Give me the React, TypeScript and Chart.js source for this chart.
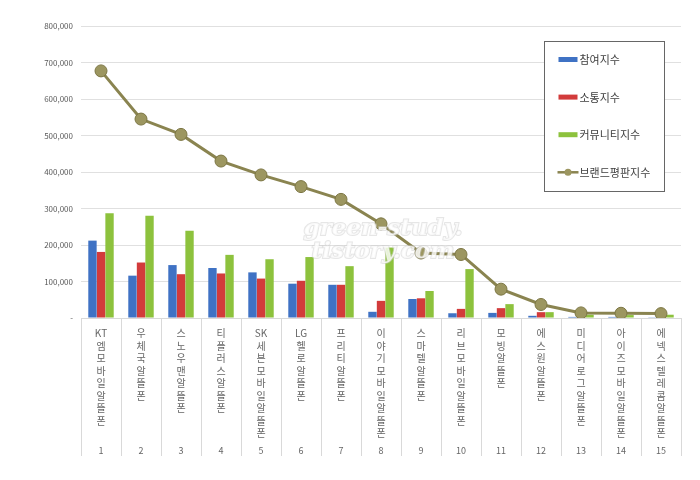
import {useEffect, useRef} from "react";
import {Chart, registerables} from "chart.js";

Chart.register(...registerables);

const names = [
    "KT엠모바일 알뜰폰", "우체국 알뜰폰", "스노우맨 알뜰폰", "티플러스 알뜰폰", "SK세븐모바일 알뜰폰",
    "LG헬로 알뜰폰", "프리티 알뜰폰", "이야기모바일 알뜰폰", "스마텔 알뜰폰", "리브모바일 알뜰폰",
    "모빙 알뜰폰", "에스원 알뜰폰", "미디어로그 알뜰폰", "아이즈모바일 알뜰폰", "에넥스텔레콤 알뜰폰",
];
const ranks = ["1", "2", "3", "4", "5", "6", "7", "8", "9", "10", "11", "12", "13", "14", "15"];

const participation = [212000, 116000, 145000, 137000, 125000, 94000, 91000, 17000, 52000, 13000, 14000, 6000, 3000, 3000, 2000];
const communication = [181000, 152000, 120000, 122000, 108000, 102000, 91000, 47000, 54000, 25000, 27000, 16000, 2000, 2000, 1000];
const community = [287000, 280000, 239000, 173000, 161000, 167000, 142000, 193000, 74000, 134000, 38000, 16000, 9000, 8000, 9000];
const reputation = [677000, 545000, 503000, 430000, 392000, 360000, 325000, 258000, 178000, 174000, 79000, 37000, 14000, 13000, 12000];

const yTicks = [0, 100000, 200000, 300000, 400000, 500000, 600000, 700000, 800000];

const FONT = "'Noto Sans CJK KR', 'Noto Sans', sans-serif";

// 세로쓰기: 한글은 한 글자씩, 영문은 묶어서 한 줄
const stack = (s: string) => s.replace(/\s/g, "").match(/[A-Za-z]+|./g) || [];

const boxPlugin = {
    id: "boxLegend",
    afterDraw(chart: any) {
        const {ctx, chartArea} = chart;
        const xs = chart.scales.x;
        const x2 = chart.scales.x2;

        // category separators under the axis
        const half = (xs.getPixelForValue(1) - xs.getPixelForValue(0)) / 2;
        ctx.save();
        ctx.strokeStyle = "#d9d9d9";
        ctx.lineWidth = 1;
        for (let i = 0; i <= names.length; i++) {
            const px = Math.round(xs.getPixelForValue(i) - half) + 0.5;
            ctx.beginPath();
            ctx.moveTo(px, chartArea.bottom);
            ctx.lineTo(px, x2.bottom - 2);
            ctx.stroke();
        }
        ctx.restore();

        // watermark
        ctx.save();
        ctx.font = "bold italic 23px 'DejaVu Serif', serif";
        ctx.textAlign = "center";
        ctx.textBaseline = "middle";
        ctx.lineWidth = 2;
        ctx.strokeStyle = "rgba(205,205,205,0.5)";
        ctx.fillStyle = "rgba(255,255,255,0.8)";
        const cx = (chartArea.left + chartArea.right) / 2 + 2;
        ctx.strokeText("green-study.", cx, 229);
        ctx.fillText("green-study.", cx, 229);
        ctx.strokeText("tistory.com", cx, 252);
        ctx.fillText("tistory.com", cx, 252);
        ctx.restore();

        // legend box
        const bx = chartArea.right - 136.5;
        const by = chartArea.top + 15.5;
        const bw = 120;
        const bh = 150;
        ctx.save();
        ctx.fillStyle = "#ffffff";
        ctx.fillRect(bx, by, bw, bh);
        ctx.strokeStyle = "#666666";
        ctx.lineWidth = 1;
        ctx.strokeRect(bx, by, bw, bh);
        ctx.font = "11px " + FONT;
        ctx.textBaseline = "middle";
        chart.data.datasets.forEach((ds: any, i: number) => {
            const ry = by + 18 + i * 37.6;
            if (ds.type === "line") {
                ctx.strokeStyle = ds.borderColor;
                ctx.lineWidth = 2.5;
                ctx.beginPath();
                ctx.moveTo(bx + 13, ry);
                ctx.lineTo(bx + 34, ry);
                ctx.stroke();
                ctx.fillStyle = ds.pointBackgroundColor;
                ctx.beginPath();
                ctx.arc(bx + 23.5, ry, 3.5, 0, Math.PI * 2);
                ctx.fill();
            } else {
                ctx.fillStyle = ds.backgroundColor;
                ctx.fillRect(bx + 14, ry - 2.5, 19, 5);
            }
            ctx.fillStyle = "#404040";
            ctx.fillText(ds.label, bx + 35, ry + 0.5);
        });
        ctx.restore();
    },
};

const App = () => {
    const canvasRef = useRef<HTMLCanvasElement>(null);

    useEffect(() => {
        document.body.style.margin = "0";
        if (!canvasRef.current) return;
        const ctx = canvasRef.current.getContext("2d");
        if (!ctx) return;

        const myChart = new Chart(ctx, {
            type: "bar",
            data: {
                labels: names.map(stack),
                datasets: [
                    {
                        type: "bar",
                        label: "참여지수",
                        data: participation,
                        backgroundColor: "#3f72c4",
                        categoryPercentage: 0.64,
                        barPercentage: 0.98,
                        order: 1,
                    },
                    {
                        type: "bar",
                        label: "소통지수",
                        data: communication,
                        backgroundColor: "#d23b3b",
                        categoryPercentage: 0.64,
                        barPercentage: 0.98,
                        order: 1,
                    },
                    {
                        type: "bar",
                        label: "커뮤니티지수",
                        data: community,
                        backgroundColor: "#8dc23d",
                        categoryPercentage: 0.64,
                        barPercentage: 0.98,
                        order: 1,
                    },
                    {
                        type: "line",
                        label: "브랜드평판지수",
                        data: reputation,
                        borderColor: "#8a8450",
                        borderWidth: 3,
                        pointRadius: 6,
                        pointBackgroundColor: "#9c9660",
                        pointBorderColor: "#7c7644",
                        pointBorderWidth: 1,
                        order: 0,
                    } as any,
                ],
            },
            options: {
                responsive: true,
                maintainAspectRatio: false,
                animation: false,
                layout: {padding: {left: 0, right: 19, top: 26, bottom: 22}},
                plugins: {
                    legend: {display: false},
                    tooltip: {enabled: false},
                },
                scales: {
                    x: {
                        type: "category",
                        position: "bottom",
                        weight: 0,
                        offset: true,
                        grid: {display: false, drawTicks: false},
                        border: {display: true, color: "#d9d9d9"},
                        ticks: {
                            color: "#666666",
                            font: {family: FONT, size: 10, lineHeight: "12.5px"},
                            padding: 9,
                            maxRotation: 0,
                            minRotation: 0,
                            autoSkip: false,
                        },
                        afterFit: (scale: any) => {
                            scale.height = 124;
                        },
                    },
                    x2: {
                        type: "category",
                        position: "bottom",
                        weight: 1,
                        labels: ranks,
                        offset: true,
                        grid: {display: false, drawTicks: false},
                        border: {display: false},
                        ticks: {
                            color: "#666666",
                            font: {family: FONT, size: 9},
                            padding: 3,
                            maxRotation: 0,
                            autoSkip: false,
                        },
                        afterFit: (scale: any) => {
                            scale.height = 16;
                        },
                    },
                    y: {
                        min: 0,
                        max: 800000,
                        afterBuildTicks: (scale: any) => {
                            scale.ticks = yTicks.map((v) => ({value: v}));
                        },
                        grid: {color: "#e0e0e0", drawTicks: false},
                        border: {display: false},
                        ticks: {
                            color: "#595959",
                            font: {family: FONT, size: 8},
                            padding: 8,
                            callback: (v: any) => (v === 0 ? "-" : Number(v).toLocaleString("en-US")),
                        },
                        afterFit: (scale: any) => {
                            scale.width = 81;
                        },
                    },
                },
            },
            plugins: [boxPlugin],
        });
        return () => {
            myChart.destroy();
        };
    }, []);

    return (
        <div style={{width: 700, height: 480, position: "relative"}}>
            <canvas ref={canvasRef}></canvas>
        </div>
    );
};

export default App;
